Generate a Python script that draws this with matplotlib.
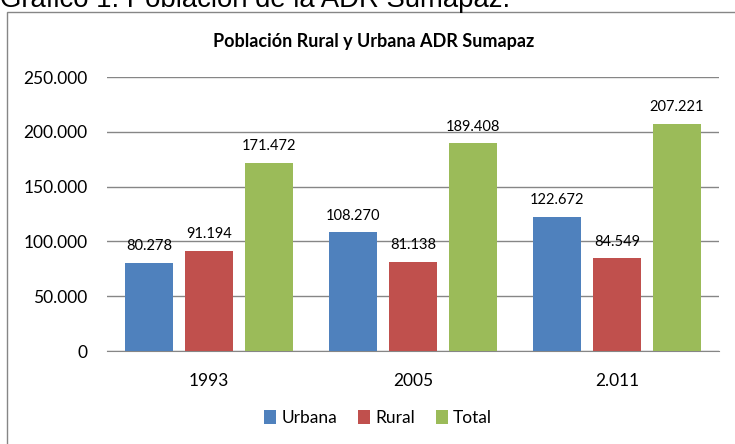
import numpy as np
import matplotlib.pyplot as plt
from matplotlib.patches import Rectangle

# Data
years = ["1993", "2005", "2.011"]
urbana = [80278, 108270, 122672]
rural = [91194, 81138, 84549]
total = [171472, 189408, 207221]
series_names = ["Urbana", "Rural", "Total"]
colors = ["#4F81BD", "#C0504D", "#9BBB59"]
yticks = [0, 50000, 100000, 150000, 200000, 250000]


def fmt(v):
    return "{:,}".format(int(v)).replace(",", ".")


plt.rcParams['font.family'] = ['Lato', 'DejaVu Sans']

fig = plt.figure(figsize=(7.35, 4.44), dpi=100)

# outer caption (cut at the top in the source)
fig.text(0.0, 1 - 7 / 444, "Gráfico 1. Población de la ADR Sumapaz.",
         fontsize=19.8, family=['Liberation Sans', 'DejaVu Sans'],
         ha='left', va='baseline', color='black')

# chart border box, runs past the right and bottom edges
fig.patches.append(Rectangle((7 / 735, -0.05), 1.0, 1 - 12 / 444 + 0.05,
                             transform=fig.transFigure, fill=False,
                             edgecolor='#868686', linewidth=1.0))

ax = fig.add_axes([107 / 735, 1 - 351 / 444, (719 - 107) / 735, (351 - 77) / 444])

x = np.arange(len(years))
width = 48 / 204
step = 60 / 204
for i, (vals, name, c) in enumerate(zip([urbana, rural, total], series_names, colors)):
    bars = ax.bar(x + (i - 1) * step, vals, width, color=c, label=name, zorder=3)
    for b, v in zip(bars, vals):
        ax.annotate(fmt(v), (b.get_x() + b.get_width() / 2, v),
                    xytext=(0, 7), textcoords='offset points',
                    ha='center', va='bottom', fontsize=10.5)

ax.set_xlim(-0.5, 2.5)
ax.set_ylim(0, 250000)
ax.set_yticks(yticks)
ax.set_yticklabels([fmt(t) for t in yticks], fontsize=12.5)
ax.set_xticks(x)
ax.set_xticklabels(years, fontsize=12.5)
ax.tick_params(axis='both', length=0)
ax.tick_params(axis='x', pad=16)
ax.tick_params(axis='y', pad=14)
ax.yaxis.grid(True, color='#868686', linewidth=1.0, zorder=0)
for s in ['top', 'right', 'left']:
    ax.spines[s].set_visible(False)
ax.spines['bottom'].set_color('#868686')

fig.text(374 / 735, 1 - 42 / 444, "Población Rural y Urbana ADR Sumapaz",
         ha='center', va='center', fontsize=13, fontweight='bold')

fig.legend(loc='center', bbox_to_anchor=(378 / 735, 1 - 418 / 444), ncol=3,
           frameon=False, fontsize=12.5, handlelength=0.7, handleheight=0.85,
           handletextpad=0.3, columnspacing=1.2)

fig.savefig("out.png", dpi=100)
